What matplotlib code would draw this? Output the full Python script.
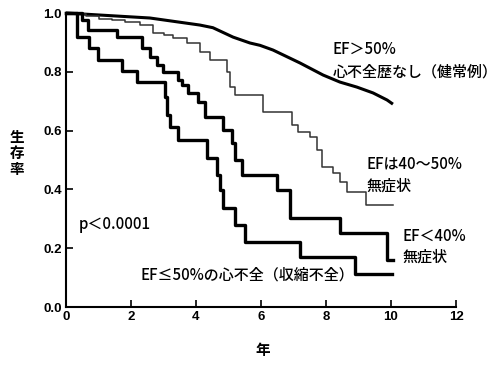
import numpy as np
import matplotlib
matplotlib.use('Agg')
import matplotlib.pyplot as plt

plt.rcParams['font.family'] = ['Noto Sans CJK JP', 'DejaVu Sans']

# survival curves (years, survival)
# EF>50%, no heart failure (smooth curve)
a_x = [0.0, 1.05, 2.58, 4.12, 4.52, 5.14, 5.66, 5.97, 6.37, 7.2, 7.91, 8.43, 8.95, 9.45, 9.88, 10.06]
a_y = [1.0, 0.993, 0.983, 0.959, 0.95, 0.918, 0.898, 0.89, 0.874, 0.83, 0.789, 0.765, 0.748, 0.728, 0.704, 0.69]

# EF 40-50%, asymptomatic (thin step)
b_x = [0.0, 0.3, 0.6, 1.0, 1.4, 1.8, 2.28, 2.68, 3.0, 3.29, 3.72, 4.12, 4.43, 4.95, 5.05, 5.2, 6.06,
       6.95, 7.14, 7.51, 7.72, 7.88, 8.22, 8.43, 8.65, 9.23, 10.06]
b_y = [1.0, 0.995, 0.99, 0.98, 0.975, 0.97, 0.959, 0.932, 0.925, 0.915, 0.898, 0.867, 0.84, 0.80, 0.748, 0.721, 0.663,
       0.619, 0.595, 0.578, 0.534, 0.476, 0.456, 0.425, 0.391, 0.347, 0.347]

# EF<40%, asymptomatic
c_x = [0.0, 0.49, 0.68, 1.57, 2.34, 2.58, 2.8, 2.98, 3.45, 3.57, 3.75, 4.06, 4.28, 4.83, 5.11, 5.2,
       5.42, 6.49, 6.89, 8.43, 9.88, 10.06]
c_y = [1.0, 0.976, 0.942, 0.918, 0.881, 0.85, 0.823, 0.799, 0.772, 0.755, 0.728, 0.697, 0.646, 0.602, 0.558, 0.5,
       0.449, 0.398, 0.303, 0.252, 0.16, 0.16]

# EF<=50% with heart failure (systolic)
d_x = [0.0, 0.34, 0.71, 0.98, 1.72, 2.18, 3.05, 3.11, 3.2, 3.45, 4.34, 4.65, 4.74, 4.83, 5.2, 5.51,
       7.2, 8.89, 10.03]
d_y = [1.0, 0.918, 0.881, 0.84, 0.803, 0.765, 0.714, 0.653, 0.612, 0.568, 0.507, 0.449, 0.398, 0.337, 0.279, 0.221,
       0.17, 0.112, 0.112]

fig = plt.figure(figsize=(4.96, 3.73), dpi=100)
ax = fig.add_axes([66/496, 1-307/373, 390/496, 294/373])

ax.plot(a_x, a_y, color='black', lw=2.2, clip_on=False, solid_capstyle='butt')
ax.step(b_x, b_y, where='post', color='#333333', lw=1.1, clip_on=False)
ax.step(c_x, c_y, where='post', color='black', lw=2.4, clip_on=False)
ax.step(d_x, d_y, where='post', color='black', lw=2.4, clip_on=False)

ax.set_xlim(0, 12)
ax.set_ylim(0, 1.0)
ax.set_xticks([0, 2, 4, 6, 8, 10, 12])
ax.set_yticks([0.0, 0.2, 0.4, 0.6, 0.8, 1.0])
ax.set_yticklabels(['0.0', '0.2', '0.4', '0.6', '0.8', '1.0'])
ax.spines['top'].set_visible(False)
ax.spines['right'].set_visible(False)
ax.spines['left'].set_linewidth(1.5)
ax.spines['bottom'].set_linewidth(1.5)
ax.tick_params(direction='in', length=5, width=1.2, labelsize=9.5, pad=3)
for lab in ax.get_xticklabels() + ax.get_yticklabels():
    lab.set_fontfamily('Liberation Sans')
    lab.set_fontweight('bold')

fs = 10.8
fw = 'medium'
ax.text(8.2, 0.875, 'EF＞50%', fontsize=fs, fontweight=fw, va='center', ha='left')
ax.text(8.2, 0.8, '心不全歴なし（健常例）', fontsize=fs, fontweight=fw, va='center', ha='left')
ax.text(9.25, 0.485, 'EFは40〜50%', fontsize=fs, fontweight=fw, va='center', ha='left')
ax.text(9.25, 0.41, '無症状', fontsize=fs, fontweight=fw, va='center', ha='left')
ax.text(10.35, 0.24, 'EF＜40%', fontsize=fs, fontweight=fw, va='center', ha='left')
ax.text(10.35, 0.17, '無症状', fontsize=fs, fontweight=fw, va='center', ha='left')
ax.text(2.28, 0.11, 'EF≤50%の心不全（収縮不全）', fontsize=fs, fontweight=fw, va='center', ha='left')
ax.text(0.4, 0.28, 'p＜0.0001', fontsize=fs, fontweight=fw, va='center', ha='left')

fig.text(17/496, 1-153/373, '生\n存\n率', fontsize=10.5, fontweight='bold', ha='center', va='center', linespacing=1.0)
fig.text(263/496, 1-350/373, '年', fontsize=10.5, fontweight='bold', ha='center', va='center')

fig.savefig('out.png', dpi=100)
